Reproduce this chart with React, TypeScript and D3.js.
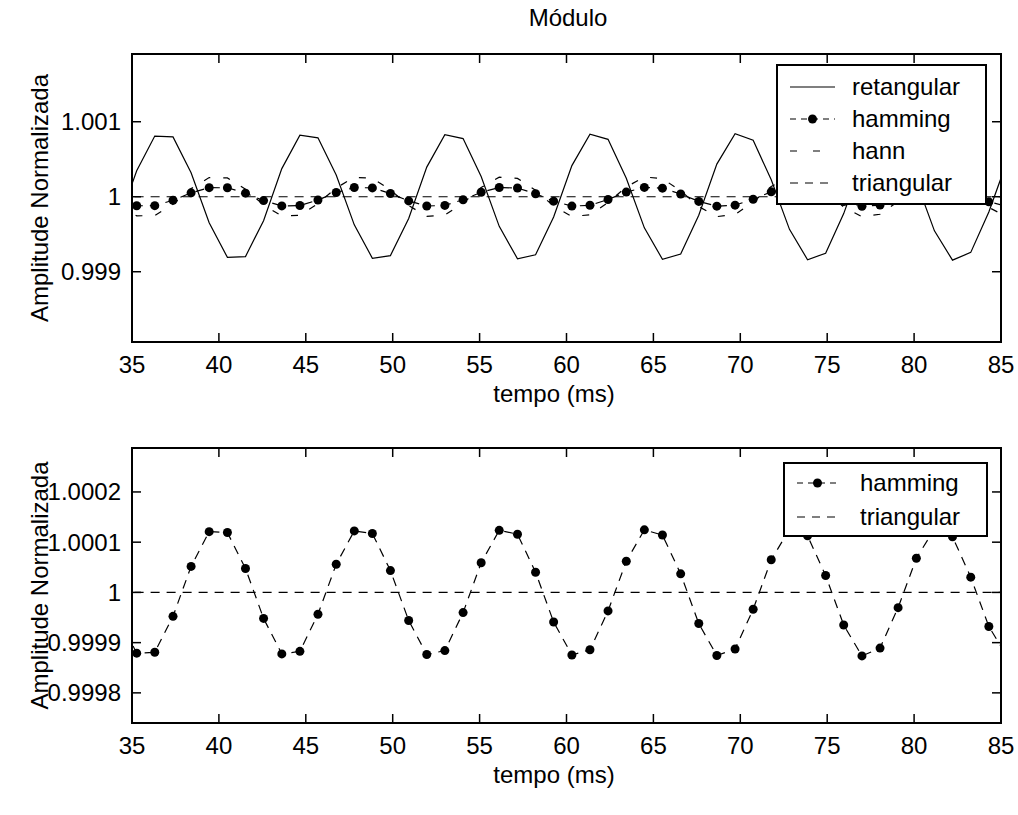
import React from "react";
import * as d3 from "d3";

const time = [34.23, 35.27, 36.31, 37.36, 38.40, 39.44, 40.49, 41.53, 42.57, 43.62, 44.66, 45.70, 46.75, 47.79, 48.83, 49.87, 50.92, 51.96, 53.00, 54.05, 55.09, 56.13, 57.18, 58.22, 59.26, 60.31, 61.35, 62.39, 63.44, 64.48, 65.52, 66.57, 67.61, 68.65, 69.70, 70.74, 71.78, 72.83, 73.87, 74.91, 75.95, 77.00, 78.04, 79.08, 80.13, 81.17, 82.21, 83.26, 84.30, 85.34];

const retangular = [0.999667,
  1.000347, 1.000809, 1.000798, 1.000319, 0.999653, 0.999191, 0.999202, 0.999681,
  1.000375, 1.000820, 1.000785, 1.000290, 0.999625, 0.999180, 0.999215, 0.999710,
  1.000395, 1.000827, 1.000775, 1.000269, 0.999605, 0.999173, 0.999225, 0.999731,
  1.000415, 1.000834, 1.000765, 1.000247, 0.999585, 0.999166, 0.999235, 0.999753,
  1.000435, 1.000840, 1.000753, 1.000225, 0.999565, 0.999160, 0.999247, 0.999775,
  1.000455, 1.000846, 1.000742, 1.000203, 0.999545, 0.999154, 0.999258, 0.999797,
  1.000467];

const hamming = [0.9999502,
  0.9998790, 0.9998808, 0.9999524, 1.0000518, 1.0001210, 1.0001192, 1.0000476, 0.9999482,
  0.9998775, 0.9998827, 0.9999566, 1.0000560, 1.0001225, 1.0001173, 1.0000434, 0.9999440,
  0.9998764, 0.9998842, 0.9999598, 1.0000590, 1.0001236, 1.0001158, 1.0000402, 0.9999410,
  0.9998754, 0.9998858, 0.9999631, 1.0000620, 1.0001246, 1.0001142, 1.0000369, 0.9999380,
  0.9998744, 0.9998874, 0.9999664, 1.0000650, 1.0001256, 1.0001126, 1.0000336, 0.9999350,
  0.9998736, 0.9998892, 0.9999697, 1.0000679, 1.0001264, 1.0001108, 1.0000303, 0.9999321,
  0.9998731];

const hann = [0.999895,
  0.999745, 0.999749, 0.999900, 1.000109, 1.000255, 1.000251, 1.000100, 0.999891,
  0.999742, 0.999753, 0.999909, 1.000118, 1.000258, 1.000247, 1.000091, 0.999882,
  0.999739, 0.999756, 0.999915, 1.000124, 1.000261, 1.000244, 1.000085, 0.999876,
  0.999737, 0.999759, 0.999922, 1.000131, 1.000263, 1.000241, 1.000078, 0.999869,
  0.999735, 0.999763, 0.999929, 1.000137, 1.000265, 1.000237, 1.000071, 0.999863,
  0.999734, 0.999766, 0.999936, 1.000143, 1.000266, 1.000234, 1.000064, 0.999857,
  0.999732];

const triangular = [1,
  1, 1, 1, 1, 1, 1, 1, 1,
  1, 1, 1, 1, 1, 1, 1, 1,
  1, 1, 1, 1, 1, 1, 1, 1,
  1, 1, 1, 1, 1, 1, 1, 1,
  1, 1, 1, 1, 1, 1, 1, 1,
  1, 1, 1, 1, 1, 1, 1, 1,
  1];

const xTicks = [35, 40, 45, 50, 55, 60, 65, 70, 75, 80, 85];
const yTicksTop = [0.999, 1, 1.001];
const yTickLabelsTop = ["0.999", "1", "1.001"];
const yTicksBottom = [0.9998, 0.9999, 1, 1.0001, 1.0002];
const yTickLabelsBottom = ["0.9998", "0.9999", "1", "1.0001", "1.0002"];
const xDomain = [35, 85];
const yDomainTop = [0.998063, 1.001903];
const yDomainBottom = [0.99974, 1.0002875];

const titleText = "Módulo";
const xLabelText = "tempo (ms)";
const yLabelText = "Amplitude Normalizada";

const FONT = "'Liberation Sans', Arial, Helvetica, sans-serif";
const FS = 24;

type Style = { dash: string | null; legendDash: string | null; marker: boolean };
const styles: Record<string, Style> = {
  retangular: { dash: null, legendDash: null, marker: false },
  hamming: { dash: "9 7", legendDash: "6 5", marker: true },
  hann: { dash: "7 13", legendDash: "7 16", marker: false },
  triangular: { dash: "9 7", legendDash: "8 7", marker: false },
};

type PanelProps = {
  id: string;
  top: number;
  bottom: number;
  yDomain: number[];
  yTicks: number[];
  yTickLabels: string[];
  series: { name: string; values: number[] }[];
  legend: { x0: number; y0: number; x1: number; y1: number; rows: number[]; lineX0: number; lineX1: number; textX: number };
};

const LEFT = 132;
const RIGHT = 1001;

function Panel(p: PanelProps) {
  const x = d3.scaleLinear().domain(xDomain).range([LEFT, RIGHT]);
  const y = d3.scaleLinear().domain(p.yDomain).range([p.bottom, p.top]);
  const tick = 9;
  const clipId = `clip-${p.id}`;
  return (
    <g>
      <defs>
        <clipPath id={clipId}>
          <rect x={LEFT} y={p.top} width={RIGHT - LEFT} height={p.bottom - p.top} />
        </clipPath>
      </defs>
      <rect x={LEFT} y={p.top} width={RIGHT - LEFT} height={p.bottom - p.top} fill="#fff" />
      <g clipPath={`url(#${clipId})`}>
        {p.series.map((s) => {
          const st = styles[s.name];
          const pts = time.map((t, i) => [t, s.values[i]] as [number, number]);
          const line = d3.line<[number, number]>().x((d) => x(d[0])).y((d) => y(d[1]));
          return (
            <g key={s.name}>
              <path d={line(pts) || ""} fill="none" stroke="#000" strokeWidth={1.2} strokeDasharray={st.dash || undefined} />
              {st.marker &&
                pts.map((d, i) => <circle key={i} cx={x(d[0])} cy={y(d[1])} r={4.5} fill="#000" />)}
            </g>
          );
        })}
      </g>
      <rect x={LEFT} y={p.top} width={RIGHT - LEFT} height={p.bottom - p.top} fill="none" stroke="#000" strokeWidth={2} />
      {xTicks.map((t) => (
        <g key={t}>
          <line x1={x(t)} x2={x(t)} y1={p.bottom} y2={p.bottom - tick} stroke="#000" strokeWidth={1.5} />
          <line x1={x(t)} x2={x(t)} y1={p.top} y2={p.top + tick} stroke="#000" strokeWidth={1.5} />
          <text x={x(t)} y={p.bottom + 23} dy="0.35em" textAnchor="middle" fontFamily={FONT} fontSize={FS}>
            {t}
          </text>
        </g>
      ))}
      {p.yTicks.map((t, i) => (
        <g key={t}>
          <line x1={LEFT} x2={LEFT + tick} y1={y(t)} y2={y(t)} stroke="#000" strokeWidth={1.5} />
          <line x1={RIGHT} x2={RIGHT - tick} y1={y(t)} y2={y(t)} stroke="#000" strokeWidth={1.5} />
          <text x={121} y={y(t)} dy="0.35em" textAnchor="end" fontFamily={FONT} fontSize={FS}>
            {p.yTickLabels[i]}
          </text>
        </g>
      ))}
      <text x={554} y={p.bottom + 52} dy="0.35em" textAnchor="middle" fontFamily={FONT} fontSize={FS}>
        {xLabelText}
      </text>
      <text
        transform={`translate(40,${(p.top + p.bottom) / 2}) rotate(-90)`}
        dy="0.35em"
        textAnchor="middle"
        fontFamily={FONT}
        fontSize={FS}
      >
        {yLabelText}
      </text>
      <rect
        x={p.legend.x0}
        y={p.legend.y0}
        width={p.legend.x1 - p.legend.x0}
        height={p.legend.y1 - p.legend.y0}
        fill="#fff"
        stroke="#000"
        strokeWidth={2}
      />
      {p.series.map((s, i) => {
        const st = styles[s.name];
        const ry = p.legend.rows[i];
        const mx = (p.legend.lineX0 + p.legend.lineX1) / 2;
        return (
          <g key={s.name}>
            <line
              x1={p.legend.lineX0}
              x2={p.legend.lineX1}
              y1={ry}
              y2={ry}
              stroke="#000"
              strokeWidth={1.2}
              strokeDasharray={st.legendDash || undefined}
            />
            {st.marker && <circle cx={mx} cy={ry} r={4.5} fill="#000" />}
            <text x={p.legend.textX} y={ry} dy="0.35em" fontFamily={FONT} fontSize={FS}>
              {s.name}
            </text>
          </g>
        );
      })}
    </g>
  );
}

export default function App() {
  return (
    <div style={{ position: "absolute", left: 0, top: 0 }}>
      <svg width={1018} height={815} style={{ display: "block", background: "#fff" }}>
        <rect x={0} y={0} width={1018} height={815} fill="#fff" />
        <text x={568} y={18} dy="0.35em" textAnchor="middle" fontFamily={FONT} fontSize={FS}>
          {titleText}
        </text>
        <Panel
          id="top"
          top={54}
          bottom={342}
          yDomain={yDomainTop}
          yTicks={yTicksTop}
          yTickLabels={yTickLabelsTop}
          series={[
            { name: "retangular", values: retangular },
            { name: "hamming", values: hamming },
            { name: "hann", values: hann },
            { name: "triangular", values: triangular },
          ]}
          legend={{ x0: 777, y0: 65, x1: 986, y1: 204, rows: [87, 119, 151, 183], lineX0: 790, lineX1: 835, textX: 852 }}
        />
        <Panel
          id="bottom"
          top={448}
          bottom={723}
          yDomain={yDomainBottom}
          yTicks={yTicksBottom}
          yTickLabels={yTickLabelsBottom}
          series={[
            { name: "hamming", values: hamming },
            { name: "triangular", values: triangular },
          ]}
          legend={{ x0: 784, y0: 463, x1: 987, y1: 536, rows: [483, 517], lineX0: 797, lineX1: 838, textX: 860 }}
        />
      </svg>
    </div>
  );
}
